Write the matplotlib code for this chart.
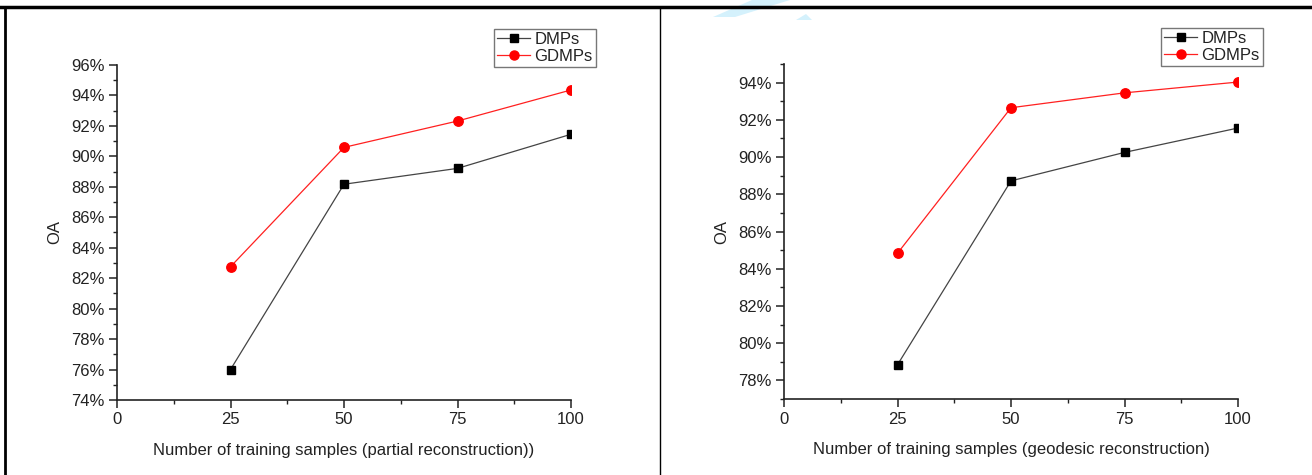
import matplotlib
matplotlib.use("Agg")
import matplotlib.pyplot as plt
from matplotlib.ticker import MultipleLocator, FuncFormatter
from matplotlib.lines import Line2D
from matplotlib.patches import Polygon

plt.rcParams['font.family'] = ['Liberation Sans', 'DejaVu Sans']

samples = [25, 50, 75, 100]
dmps_partial = [76.0, 88.17, 89.21, 91.45]
gdmps_partial = [82.75, 90.59, 92.32, 94.36]
dmps_geodesic = [78.84, 88.72, 90.25, 91.56]
gdmps_geodesic = [84.83, 92.65, 93.45, 94.03]
series_names = ["DMPs", "GDMPs"]
xlabels = ["Number of training samples (partial reconstruction))",
           "Number of training samples (geodesic reconstruction)"]
ylabel = "OA"

W, H = 1312, 475
fig = plt.figure(figsize=(W / 100, H / 100), dpi=100)

def px_axes(x0, x1, ytop, ybot):
    return fig.add_axes([x0 / W, 1 - ybot / H, (x1 - x0) / W, (ybot - ytop) / H])

ax1 = px_axes(117, 571, 65, 400)
ax2 = px_axes(784, 1238, 64, 399)

panels = [
    (ax1, dmps_partial, gdmps_partial, (74, 96), xlabels[0], (596, 29)),
    (ax2, dmps_geodesic, gdmps_geodesic, (77, 95), xlabels[1], (1263, 28)),
]

FS = 12
for ax, d, g, ylim, xl, leg in panels:
    ax.plot(samples, d, color='#444444', lw=0.9, marker='s', ms=6,
            mfc='black', mec='black', label=series_names[0], zorder=3)
    ax.plot(samples, g, color='#ff2020', lw=0.9, marker='o', ms=6.8,
            mfc='red', mec='red', label=series_names[1], zorder=3)
    ax.set_xlim(0, 100)
    ax.set_ylim(*ylim)
    ax.xaxis.set_major_locator(MultipleLocator(25))
    ax.xaxis.set_minor_locator(MultipleLocator(12.5))
    ax.yaxis.set_major_locator(MultipleLocator(2))
    ax.yaxis.set_minor_locator(MultipleLocator(1))
    ax.yaxis.set_major_formatter(FuncFormatter(lambda v, p: f"{v:.0f}%"))
    for s in ['top', 'right']:
        ax.spines[s].set_visible(False)
    for s in ['left', 'bottom']:
        ax.spines[s].set_linewidth(1.2)
        ax.spines[s].set_color('#222222')
    ax.tick_params(which='major', direction='out', length=6, width=1.1,
                   color='#222222', labelsize=FS, labelcolor='#222222', pad=3)
    ax.tick_params(which='minor', direction='out', length=3, width=1.0, color='#222222')
    ax.set_xlabel(xl, fontsize=FS, color='#222222', labelpad=11)
    ax.set_ylabel(ylabel, fontsize=FS, color='#222222', labelpad=6)
    handles = [Line2D([], [], color='#444444', lw=0.9, marker='s', ms=5.5, mfc='black', mec='black'),
               Line2D([], [], color='#ff2020', lw=0.9, marker='o', ms=6.5, mfc='red', mec='red')]
    lg = ax.legend(handles, series_names, loc='upper right',
                   bbox_to_anchor=(leg[0] / W, 1 - leg[1] / H),
                   bbox_transform=fig.transFigure, fontsize=FS,
                   frameon=True, fancybox=False, borderpad=0.2, labelspacing=0.1,
                   handlelength=2.0, handletextpad=0.25, borderaxespad=0)
    lg.get_frame().set_edgecolor('#555555')
    lg.get_frame().set_linewidth(1.0)
    for t in lg.get_texts():
        t.set_color('#222222')

# frame lines of the surrounding table
fig.add_artist(Line2D([0, 1], [1 - 7 / H, 1 - 7 / H], transform=fig.transFigure,
                      color='black', lw=2.5, zorder=5))
fig.add_artist(Line2D([5 / W, 5 / W], [0, 1 - 7 / H], transform=fig.transFigure,
                      color='black', lw=2.0))
fig.add_artist(Line2D([660 / W, 660 / W], [0, 1 - 7 / H], transform=fig.transFigure,
                      color='black', lw=1.0))

# light watermark fragment near the top
wm = Polygon([(713 / W, 1 - 17 / H), (735 / W, 1 - 17 / H), (790 / W, 1 - 0 / H),
              (752 / W, 1 - 0 / H)], closed=True, transform=fig.transFigure,
             facecolor='#d4f1fc', edgecolor='none', zorder=0)
fig.add_artist(wm)
wm2 = Polygon([(796 / W, 1 - 20 / H), (806 / W, 1 - 14 / H), (812 / W, 1 - 20 / H)],
              closed=True, transform=fig.transFigure, facecolor='#d4f1fc',
              edgecolor='none', zorder=0)
fig.add_artist(wm2)

fig.savefig("out.png", dpi=100)
